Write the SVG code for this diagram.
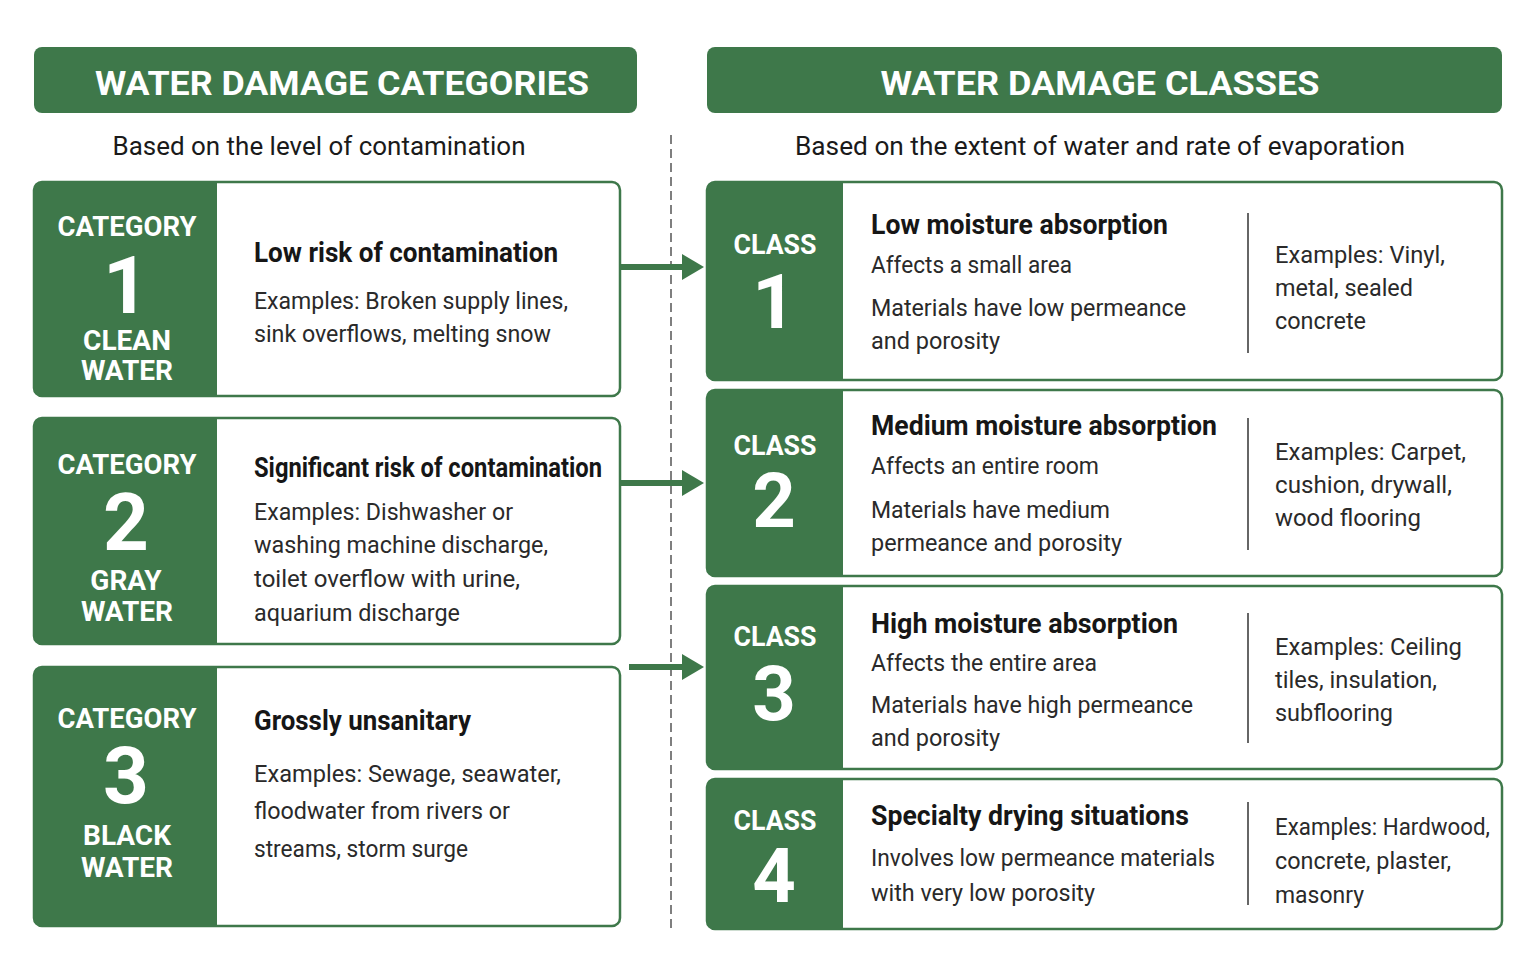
<svg xmlns="http://www.w3.org/2000/svg" width="1535" height="975" viewBox="0 0 1535 975">
<style>
.hdr{fill:#3e784a}
.hdrt{font-family:Roboto,"Liberation Sans",sans-serif;font-weight:700;font-size:34px;fill:#fff;text-anchor:middle}
.sub{font-family:Roboto,"Liberation Sans",sans-serif;font-size:25px;fill:#1a1a1a;text-anchor:middle}
.box{fill:#fff;stroke:#3e784a;stroke-width:2.5}
.pan{fill:#3e784a}
.lab{font-family:Roboto,"Liberation Sans",sans-serif;font-weight:700;font-size:28px;fill:#fff;text-anchor:middle}
.num{font-family:Roboto,"Liberation Sans",sans-serif;font-weight:700;font-size:80px;fill:#fff;text-anchor:middle}
.numc{font-family:Roboto,"Liberation Sans",sans-serif;font-weight:700;font-size:76px;fill:#fff;text-anchor:middle}
.ttl{font-family:Roboto,"Liberation Sans",sans-serif;font-weight:700;font-size:28px;fill:#161616}
.txt{font-family:Roboto,"Liberation Sans",sans-serif;font-size:24px;fill:#2a2a2a}
.sep{stroke:#333;stroke-width:1.5}
.arr{stroke:#3e784a;stroke-width:6;fill:none}
</style>
<defs>
<marker id="ah" markerUnits="userSpaceOnUse" markerWidth="24" markerHeight="28" refX="2" refY="13" orient="auto">
<path d="M0,0 L22,13 L0,26 Z" fill="#3e784a"/>
</marker>
</defs>
<rect width="1535" height="975" fill="#ffffff"/>

<g id="header-categories">
<rect class="hdr" x="34" y="47" width="603" height="66" rx="8"/>
<text class="hdrt" x="342" y="95" textLength="494" lengthAdjust="spacingAndGlyphs">WATER DAMAGE CATEGORIES</text>
<text class="sub" x="319" y="155" textLength="413" lengthAdjust="spacingAndGlyphs">Based on the level of contamination</text>
</g>
<g id="header-classes">
<rect class="hdr" x="707" y="47" width="795" height="66" rx="8"/>
<text class="hdrt" x="1100" y="95" textLength="439" lengthAdjust="spacingAndGlyphs">WATER DAMAGE CLASSES</text>
<text class="sub" x="1100" y="155" textLength="610" lengthAdjust="spacingAndGlyphs">Based on the extent of water and rate of evaporation</text>
</g>

<line x1="671" y1="135" x2="671" y2="930" stroke="#555" stroke-width="1.5" stroke-dasharray="9 5"/>

<g id="category-1">
<rect class="box" x="34" y="182" width="586" height="214" rx="8"/>
<path class="pan" d="M42,182 H217 V396 H42 Q34,396 34,388 V190 Q34,182 42,182 Z"/>
<text class="lab" x="127" y="236" textLength="139" lengthAdjust="spacingAndGlyphs">CATEGORY</text>
<text class="num" x="126" y="313">1</text>
<text class="lab" x="127" y="350">CLEAN</text>
<text class="lab" x="127" y="380">WATER</text>
<text class="ttl" x="254" y="262" textLength="304" lengthAdjust="spacingAndGlyphs">Low risk of contamination</text>
<text class="txt" x="254" y="309" textLength="314" lengthAdjust="spacingAndGlyphs">Examples: Broken supply lines,</text>
<text class="txt" x="254" y="342" textLength="297" lengthAdjust="spacingAndGlyphs">sink overflows, melting snow</text>
</g>

<g id="category-2">
<rect class="box" x="34" y="418" width="586" height="226" rx="8"/>
<path class="pan" d="M42,418 H217 V644 H42 Q34,644 34,636 V426 Q34,418 42,418 Z"/>
<text class="lab" x="127" y="474" textLength="139" lengthAdjust="spacingAndGlyphs">CATEGORY</text>
<text class="num" x="126" y="550">2</text>
<text class="lab" x="126" y="590">GRAY</text>
<text class="lab" x="127" y="621">WATER</text>
<text class="ttl" x="254" y="477" textLength="348" lengthAdjust="spacingAndGlyphs">Significant risk of contamination</text>
<text class="txt" x="254" y="520" textLength="259" lengthAdjust="spacingAndGlyphs">Examples: Dishwasher or</text>
<text class="txt" x="254" y="553" textLength="294" lengthAdjust="spacingAndGlyphs">washing machine discharge,</text>
<text class="txt" x="254" y="587" textLength="266" lengthAdjust="spacingAndGlyphs">toilet overflow with urine,</text>
<text class="txt" x="254" y="621" textLength="206" lengthAdjust="spacingAndGlyphs">aquarium discharge</text>
</g>

<g id="category-3">
<rect class="box" x="34" y="667" width="586" height="259" rx="8"/>
<path class="pan" d="M42,667 H217 V926 H42 Q34,926 34,918 V675 Q34,667 42,667 Z"/>
<text class="lab" x="127" y="728" textLength="139" lengthAdjust="spacingAndGlyphs">CATEGORY</text>
<text class="num" x="126" y="803">3</text>
<text class="lab" x="127" y="845">BLACK</text>
<text class="lab" x="127" y="877">WATER</text>
<text class="ttl" x="254" y="730" textLength="217" lengthAdjust="spacingAndGlyphs">Grossly unsanitary</text>
<text class="txt" x="254" y="782" textLength="307" lengthAdjust="spacingAndGlyphs">Examples: Sewage, seawater,</text>
<text class="txt" x="254" y="819" textLength="256" lengthAdjust="spacingAndGlyphs">floodwater from rivers or</text>
<text class="txt" x="254" y="857" textLength="214" lengthAdjust="spacingAndGlyphs">streams, storm surge</text>
</g>

<g id="class-1">
<rect class="box" x="707" y="182" width="795" height="198" rx="8"/>
<path class="pan" d="M715,182 H843 V380 H715 Q707,380 707,372 V190 Q707,182 715,182 Z"/>
<text class="lab" x="775" y="254" textLength="83" lengthAdjust="spacingAndGlyphs">CLASS</text>
<text class="numc" x="774" y="328">1</text>
<text class="ttl" x="871" y="234" textLength="297" lengthAdjust="spacingAndGlyphs">Low moisture absorption</text>
<text class="txt" x="871" y="273" textLength="201" lengthAdjust="spacingAndGlyphs">Affects a small area</text>
<text class="txt" x="871" y="316" textLength="315" lengthAdjust="spacingAndGlyphs">Materials have low permeance</text>
<text class="txt" x="871" y="349" textLength="129" lengthAdjust="spacingAndGlyphs">and porosity</text>
<line class="sep" x1="1248" y1="213" x2="1248" y2="353"/>
<text class="txt" x="1275" y="263" textLength="170" lengthAdjust="spacingAndGlyphs">Examples: Vinyl,</text>
<text class="txt" x="1275" y="296" textLength="138" lengthAdjust="spacingAndGlyphs">metal, sealed</text>
<text class="txt" x="1275" y="329" textLength="91" lengthAdjust="spacingAndGlyphs">concrete</text>
</g>

<g id="class-2">
<rect class="box" x="707" y="390" width="795" height="186" rx="8"/>
<path class="pan" d="M715,390 H843 V576 H715 Q707,576 707,568 V398 Q707,390 715,390 Z"/>
<text class="lab" x="775" y="455" textLength="83" lengthAdjust="spacingAndGlyphs">CLASS</text>
<text class="numc" x="774" y="527">2</text>
<text class="ttl" x="871" y="435" textLength="346" lengthAdjust="spacingAndGlyphs">Medium moisture absorption</text>
<text class="txt" x="871" y="474" textLength="228" lengthAdjust="spacingAndGlyphs">Affects an entire room</text>
<text class="txt" x="871" y="518" textLength="239" lengthAdjust="spacingAndGlyphs">Materials have medium</text>
<text class="txt" x="871" y="551" textLength="251" lengthAdjust="spacingAndGlyphs">permeance and porosity</text>
<line class="sep" x1="1248" y1="418" x2="1248" y2="550"/>
<text class="txt" x="1275" y="460" textLength="191" lengthAdjust="spacingAndGlyphs">Examples: Carpet,</text>
<text class="txt" x="1275" y="493" textLength="177" lengthAdjust="spacingAndGlyphs">cushion, drywall,</text>
<text class="txt" x="1275" y="526" textLength="146" lengthAdjust="spacingAndGlyphs">wood flooring</text>
</g>

<g id="class-3">
<rect class="box" x="707" y="586" width="795" height="183" rx="8"/>
<path class="pan" d="M715,586 H843 V769 H715 Q707,769 707,761 V594 Q707,586 715,586 Z"/>
<text class="lab" x="775" y="646" textLength="83" lengthAdjust="spacingAndGlyphs">CLASS</text>
<text class="numc" x="774" y="720">3</text>
<text class="ttl" x="871" y="633" textLength="307" lengthAdjust="spacingAndGlyphs">High moisture absorption</text>
<text class="txt" x="871" y="671" textLength="226" lengthAdjust="spacingAndGlyphs">Affects the entire area</text>
<text class="txt" x="871" y="713" textLength="322" lengthAdjust="spacingAndGlyphs">Materials have high permeance</text>
<text class="txt" x="871" y="746" textLength="129" lengthAdjust="spacingAndGlyphs">and porosity</text>
<line class="sep" x1="1248" y1="613" x2="1248" y2="743"/>
<text class="txt" x="1275" y="655" textLength="187" lengthAdjust="spacingAndGlyphs">Examples: Ceiling</text>
<text class="txt" x="1275" y="688" textLength="162" lengthAdjust="spacingAndGlyphs">tiles, insulation,</text>
<text class="txt" x="1275" y="721" textLength="118" lengthAdjust="spacingAndGlyphs">subflooring</text>
</g>

<g id="class-4">
<rect class="box" x="707" y="779" width="795" height="150" rx="8"/>
<path class="pan" d="M715,779 H843 V929 H715 Q707,929 707,921 V787 Q707,779 715,779 Z"/>
<text class="lab" x="775" y="830" textLength="83" lengthAdjust="spacingAndGlyphs">CLASS</text>
<text class="numc" x="774" y="902">4</text>
<text class="ttl" x="871" y="825" textLength="318" lengthAdjust="spacingAndGlyphs">Specialty drying situations</text>
<text class="txt" x="871" y="866" textLength="344" lengthAdjust="spacingAndGlyphs">Involves low permeance materials</text>
<text class="txt" x="871" y="901" textLength="224" lengthAdjust="spacingAndGlyphs">with very low porosity</text>
<line class="sep" x1="1248" y1="802" x2="1248" y2="905"/>
<text class="txt" x="1275" y="835" textLength="215" lengthAdjust="spacingAndGlyphs">Examples: Hardwood,</text>
<text class="txt" x="1275" y="869" textLength="176" lengthAdjust="spacingAndGlyphs">concrete, plaster,</text>
<text class="txt" x="1275" y="903" textLength="89" lengthAdjust="spacingAndGlyphs">masonry</text>
</g>

<g id="connectors">
<line class="arr" x1="621" y1="267" x2="684" y2="267" marker-end="url(#ah)"/>
<line class="arr" x1="621" y1="483" x2="684" y2="483" marker-end="url(#ah)"/>
<line class="arr" x1="629" y1="667" x2="684" y2="667" marker-end="url(#ah)"/>
</g>
</svg>
